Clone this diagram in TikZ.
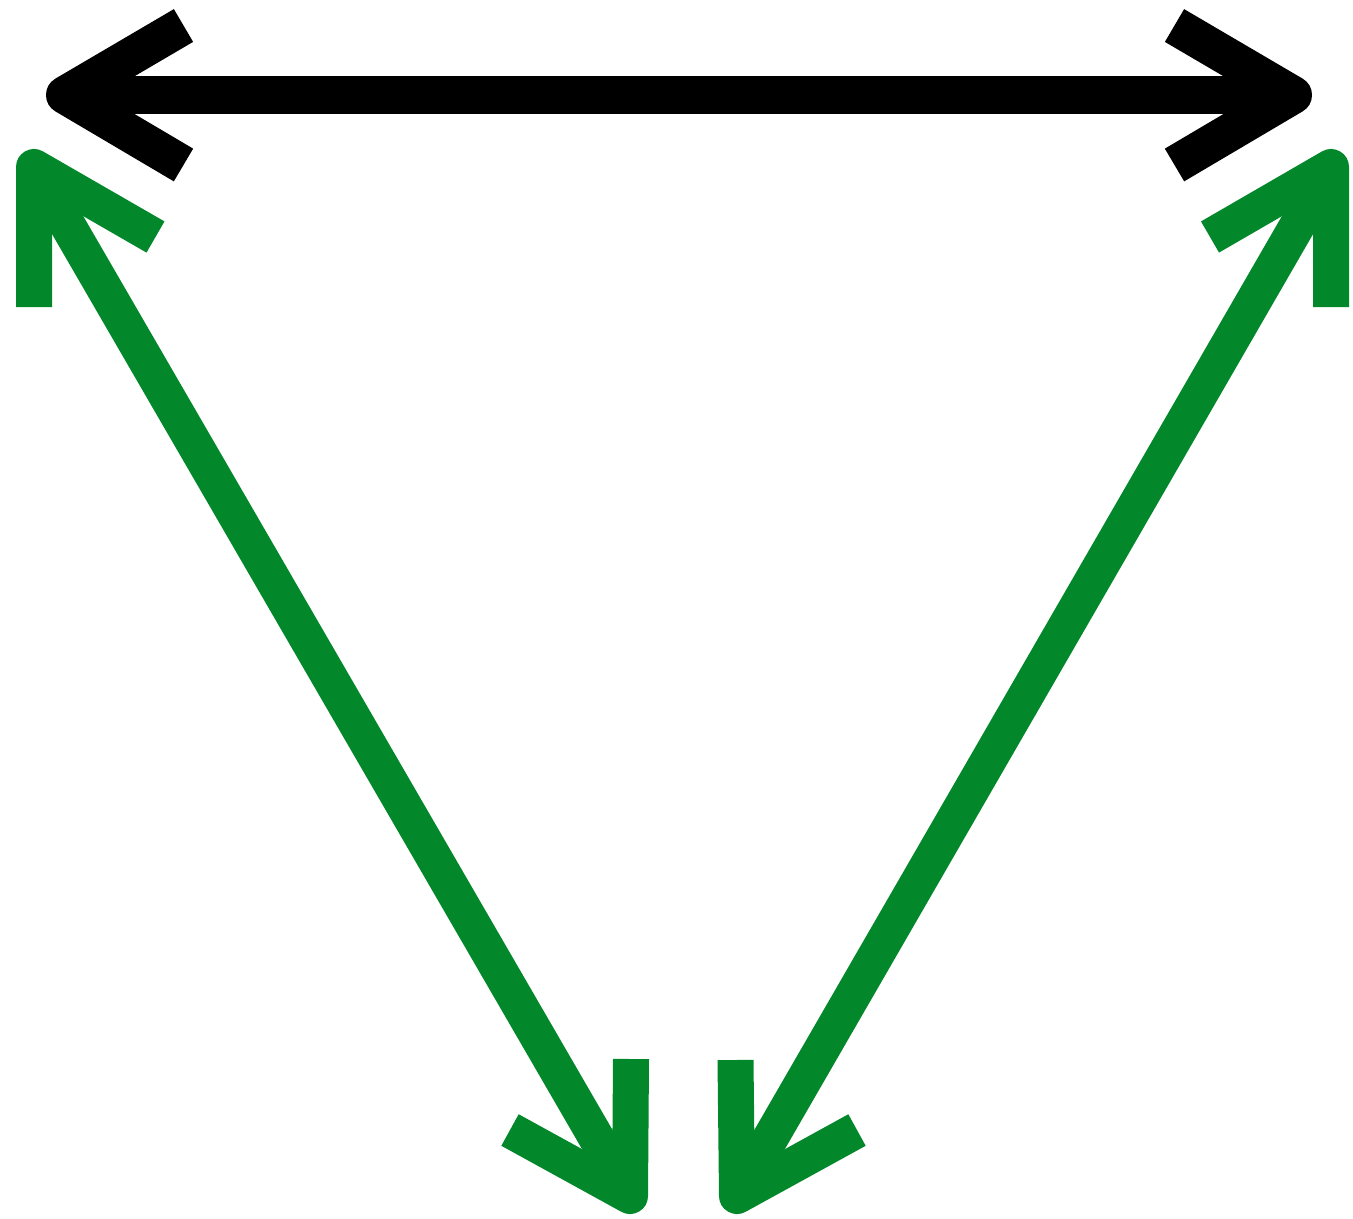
\documentclass[tikz,border=0pt]{standalone}
\definecolor{arrowgreen}{RGB}{2,136,43}
\begin{document}
\begin{tikzpicture}[x=1pt,y=-1pt,
  blk/.style={line width=38pt, black, line cap=butt, line join=round},
  grn/.style={line width=36pt, arrowgreen, line cap=butt, line join=round}]
\useasboundingbox (0,0) rectangle (1353,1219);
% black horizontal double arrow
\coordinate (A) at (65,95);
\coordinate (B) at (1293,95);
\draw[blk] (A) -- (B);
\draw[blk] (183.5,25.5) -- (A) -- (183.5,165);
\draw[blk] (1174.5,25.5) -- (B) -- (1174.5,165);
% green left double arrow
\coordinate (C) at (34,167);
\coordinate (D) at (630,1196);
\draw[grn] (C) -- (D);
\draw[grn] (34,307) -- (C) -- (155.5,237);
\draw[grn] (631,1059) -- (D) -- (510,1130);
% green right double arrow
\coordinate (E) at (1331,167);
\coordinate (F) at (737,1196);
\draw[grn] (E) -- (F);
\draw[grn] (1331,307) -- (E) -- (1210,237);
\draw[grn] (735.5,1060) -- (F) -- (857,1130);
\end{tikzpicture}
\end{document}
